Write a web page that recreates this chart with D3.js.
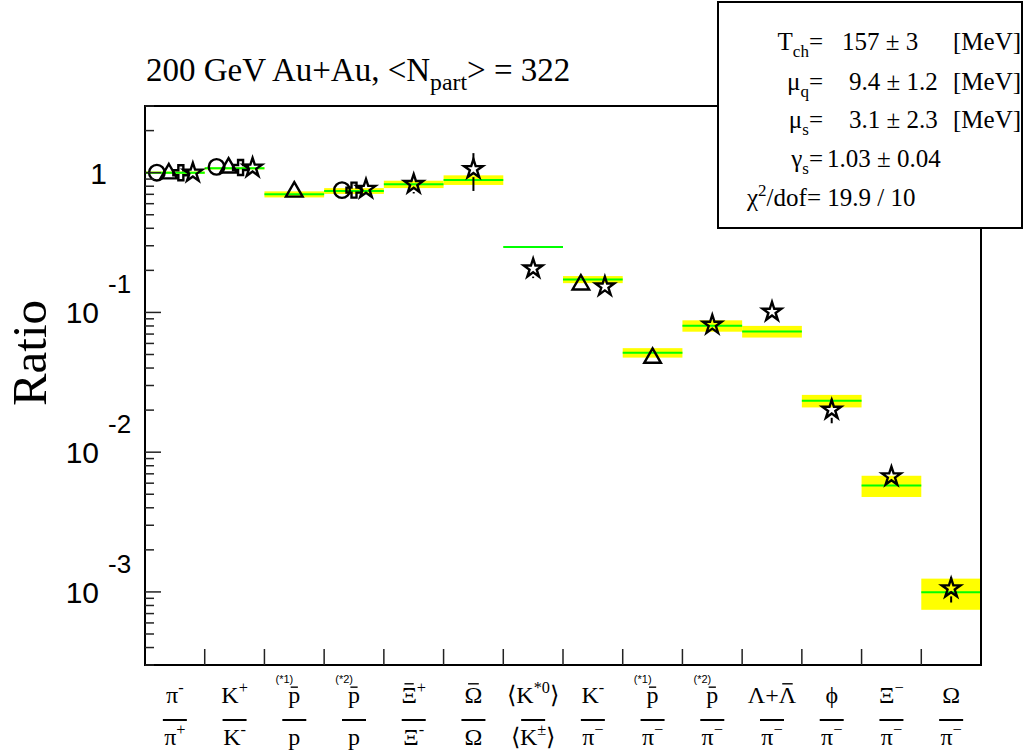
<!DOCTYPE html>
<html>
<head>
<meta charset="utf-8">
<script src="https://cdnjs.cloudflare.com/ajax/libs/d3/7.8.5/d3.min.js"></script>
<style>
	body { margin: 0; background: #fff; }
	svg { display: block; }
</style>
</head>
<body>
<div id="chart"></div>
<script>
// ratio categories (numerator / denominator, ROOT-like markup)
const numerators = ["π^{-}", "K^{+}", "#bar{p}", "#bar{p}", "#bar{Ξ}^{+}", "#bar{Ω}", "⟨K^{*0}⟩", "K^{-}", "#bar{p}", "#bar{p}", "Λ+#bar{Λ}", "ϕ", "Ξ^{−}", "Ω"];
const denominators = ["π^{+}", "K^{-}", "p", "p", "Ξ^{-}", "Ω", "⟨K^{±}⟩", "π^{−}", "π^{−}", "π^{−}", "π^{−}", "π^{−}", "π^{−}", "π^{−}"];
const tags = ["", "", "(*1)", "(*2)", "", "", "", "", "(*1)", "(*2)", "", "", "", ""];

// thermal model fit and its uncertainty band
const modelValues = [1.0, 1.075, 0.70, 0.74, 0.826, 0.887, 0.294, 0.172, 0.0515, 0.0803, 0.0731, 0.0233, 0.00578, 0.000995];
const modelErrors = [0.02, 0.02, 0.035, 0.035, 0.05, 0.07, 0.003, 0.01, 0.004, 0.0075, 0.007, 0.0024, 0.001, 0.00025];

// measured ratios per bin (null = empty slot)
const measShapes = [
	["circle", "triangle", "cross", "star"],
	["circle", "triangle", "cross", "star"],
	["triangle"],
	["circle", "cross", "star"],
	["star"], ["star"], ["star"],
	["triangle", null, "star"],
	["triangle"], ["star"], ["star"], ["star"], ["star"], ["star"]
];
const measValues = [
	[1.0, 0.985, 1.0, 1.0],
	[1.10, 1.085, 1.09, 1.085],
	[0.73],
	[0.75, 0.75, 0.765],
	[0.83], [1.06], [0.206],
	[0.158, null, 0.153],
	[0.0472], [0.0815], [0.101], [0.0201], [0.0067], [0.00106]
];
const measErrors = [
	[0.02, 0.02, 0.02, 0.03],
	[0.02, 0.02, 0.02, 0.1],
	[0.03],
	[0.03, 0.03, 0.08],
	[0.12], [0.32], [0.03],
	[0.01, null, 0.01],
	[0.003], [0.006], [0.006], [0.004], [0.0006], [0.00022]
];

// fit results box
const fitLabels = ["T_{ch}=", "μ_{q}=", "μ_{s}=", "γ_{s}="];
const fitValues = ["157 ± 3", "9.4 ± 1.2", "3.1 ± 2.3", "1.03 ± 0.04"];
const fitUnits = ["[MeV]", "[MeV]", "[MeV]", ""];
const chiText = "χ^{2}/dof= 19.9 / 10";
const titleText = "200 GeV Au+Au, <N_{part}> = 322";
const yDomain = [3e-4, 3];

const W = 1025, H = 754;
const m = { left: 145, right: 981, top: 106, bottom: 665 };
const serif = "'Liberation Serif', 'Times New Roman', serif";
const sans = "'Liberation Sans', Arial, sans-serif";

const svg = d3.select('#chart').append('svg')
	.attr('width', W)
	.attr('height', H);

const x = d3.scaleBand()
	.domain(d3.range(numerators.length))
	.range([m.left, m.right])
	.padding(0);

const y = d3.scaleLog()
	.domain(yDomain)
	.range([m.bottom, m.top]);

// parse "a^{b}c_{d}#bar{e}" into tokens
function parseRich(str){
	const re = /(\^|_)\{([^}]*)\}|#bar\{([^}]*)\}|([^\^_#]+)/g;
	const out = [];
	let mt;
	while((mt = re.exec(str)) !== null){
		if(mt[4] !== undefined) out.push({ t: mt[4], k: '' });
		else if(mt[3] !== undefined) out.push({ t: mt[3], k: '', bar: true });
		else out.push({ t: mt[2], k: mt[1] == '^' ? 'sup' : 'sub' });
	}
	return out;
}

function richText(g, str, opts){
	const base = opts.size;
	const t = g.append('text')
		.attr('x', opts.x)
		.attr('y', opts.y)
		.attr('font-family', opts.family || serif)
		.attr('font-size', base)
		.attr('text-anchor', opts.anchor || 'start')
		.attr('fill', '#000');
	let cur = 0;
	const barred = [];
	parseRich(str).forEach(function(tok){
		const target = tok.k == 'sup' ? -base * 0.42 : tok.k == 'sub' ? base * 0.28 : 0;
		const ts = t.append('tspan')
			.attr('dy', target - cur)
			.attr('font-size', tok.k ? base * (opts.supScale || 0.68) : base)
			.text(tok.t);
		if(tok.bar) barred.push(ts);
		cur = target;
	});
	// overbars drawn as short lines above the glyph
	barred.forEach(function(ts){
		const node = ts.node();
		const n = node.getNumberOfChars();
		const p0 = node.getStartPositionOfChar(0);
		const p1 = node.getEndPositionOfChar(n - 1);
		const w = p1.x - p0.x;
		const lower = /[a-z]/.test(ts.text());
		const by = p0.y - base * (lower ? 0.66 : 0.8);
		g.append('line')
			.attr('x1', p0.x + w * 0.2).attr('x2', p1.x - w * 0.2)
			.attr('y1', by).attr('y2', by)
			.attr('stroke', '#000')
			.attr('stroke-width', 1.4);
	});
	return t;
}

// model bands and lines
const bands = svg.append('g').attr('class', 'model');
modelValues.forEach(function(v, i){
	const e = modelErrors[i];
	bands.append('rect')
		.attr('x', x(i))
		.attr('width', x.bandwidth())
		.attr('y', y(v + e))
		.attr('height', y(v - e) - y(v + e))
		.attr('fill', '#ffff00');
});
modelValues.forEach(function(v, i){
	bands.append('line')
		.attr('x1', x(i)).attr('x2', x(i) + x.bandwidth())
		.attr('y1', y(v)).attr('y2', y(v))
		.attr('stroke', '#00ff00')
		.attr('stroke-width', 2);
});

// measured points
const symbols = {
	circle: d3.symbol().type(d3.symbolCircle).size(190),
	triangle: d3.symbol().type(d3.symbolTriangle).size(120),
	cross: d3.symbol().type(d3.symbolCross).size(125),
	star: d3.symbol().type(d3.symbolStar).size(110)
};
const half = 8;
const pts = svg.append('g').attr('class', 'points');
measShapes.forEach(function(shapes, i){
	const n = shapes.length;
	const step = 12;
	const cx0 = x(i) + x.bandwidth() / 2 - step * (n - 1) / 2;
	shapes.forEach(function(s, j){
		if(s === null) return;
		const v = measValues[i][j], e = measErrors[i][j];
		const cx = cx0 + j * step;
		const cy = y(v);
		const yt = y(v + e), yb = y(v - e);
		if(cy - yt > half){
			pts.append('line').attr('x1', cx).attr('x2', cx)
				.attr('y1', yt).attr('y2', cy - half)
				.attr('stroke', '#000').attr('stroke-width', 2);
		}
		if(yb - cy > half){
			pts.append('line').attr('x1', cx).attr('x2', cx)
				.attr('y1', cy + half).attr('y2', yb)
				.attr('stroke', '#000').attr('stroke-width', 2);
		}
		pts.append('path')
			.attr('d', symbols[s]())
			.attr('transform', 'translate(' + cx + ',' + cy + ')')
			.attr('fill', 'none')
			.attr('stroke', '#000')
			.attr('stroke-width', 2.4)
			.attr('stroke-linejoin', 'miter');
	});
});

// frame
svg.append('rect')
	.attr('x', m.left).attr('y', m.top)
	.attr('width', m.right - m.left).attr('height', m.bottom - m.top)
	.attr('fill', 'none')
	.attr('stroke', '#000')
	.attr('stroke-width', 2);

// y ticks (log)
const yAxis = svg.append('g').attr('class', 'y axis');
y.ticks().forEach(function(t){
	const lg = Math.log10(t);
	const major = Math.abs(lg - Math.round(lg)) < 1e-9;
	yAxis.append('line')
		.attr('x1', m.left).attr('x2', m.left + (major ? 16 : 9))
		.attr('y1', y(t)).attr('y2', y(t))
		.attr('stroke', '#222')
		.attr('stroke-width', 1.5);
	if(major){
		const p = Math.round(lg);
		if(p === 0){
			yAxis.append('text')
				.attr('x', 107).attr('y', y(t) + 11)
				.attr('text-anchor', 'end')
				.attr('font-family', sans).attr('font-size', 30)
				.text('1');
		} else {
			yAxis.append('text')
				.attr('x', 99).attr('y', y(t) + 11)
				.attr('text-anchor', 'end')
				.attr('font-family', sans).attr('font-size', 30)
				.text('10');
			yAxis.append('text')
				.attr('x', 108).attr('y', y(t) - 19)
				.attr('font-family', sans).attr('font-size', 26)
				.text('-' + Math.abs(p));
		}
	}
});

// x ticks at bin edges
const xAxis = svg.append('g').attr('class', 'x axis');
d3.range(1, numerators.length).forEach(function(i){
	xAxis.append('line')
		.attr('x1', x(i)).attr('x2', x(i))
		.attr('y1', m.bottom).attr('y2', m.bottom - 16)
		.attr('stroke', '#222')
		.attr('stroke-width', 1.5);
});

// fraction labels
numerators.forEach(function(num, i){
	const cx = x(i) + x.bandwidth() / 2;
	richText(xAxis, num, { x: cx, y: 703, size: 24, anchor: 'middle' });
	richText(xAxis, denominators[i], { x: cx, y: 745, size: 24, anchor: 'middle' });
	xAxis.append('line')
		.attr('x1', cx - 12).attr('x2', cx + 12)
		.attr('y1', 720).attr('y2', 720)
		.attr('stroke', '#000')
		.attr('stroke-width', 2);
	if(tags[i]){
		xAxis.append('text')
			.attr('x', cx - 1).attr('y', 683)
			.attr('text-anchor', 'end')
			.attr('font-family', sans).attr('font-size', 11)
			.text(tags[i]);
	}
});

// title and y label
richText(svg, titleText, { x: 146, y: 81, size: 33, supScale: 0.72 });
svg.append('text')
	.attr('transform', 'translate(46,353) rotate(-90)')
	.attr('text-anchor', 'middle')
	.attr('font-family', serif)
	.attr('font-size', 49)
	.text('Ratio');

// fit parameter box
const box = svg.append('g').attr('class', 'fitbox');
box.append('rect')
	.attr('x', 718).attr('y', 2)
	.attr('width', 304).attr('height', 226)
	.attr('fill', '#fff')
	.attr('stroke', '#000')
	.attr('stroke-width', 2);
const rowY = [50, 90, 128, 167];
const valX = [842, 849, 849, 827];
fitLabels.forEach(function(lab, i){
	richText(box, lab, { x: 823, y: rowY[i], size: 25, anchor: 'end' });
	box.append('text')
		.attr('x', valX[i]).attr('y', rowY[i])
		.attr('font-family', serif).attr('font-size', 25)
		.text(fitValues[i]);
	if(fitUnits[i]){
		box.append('text')
			.attr('x', 953).attr('y', rowY[i])
			.attr('font-family', serif).attr('font-size', 25)
			.text(fitUnits[i]);
	}
});
richText(box, chiText, { x: 747, y: 206, size: 25 });
</script>
</body>
</html>
